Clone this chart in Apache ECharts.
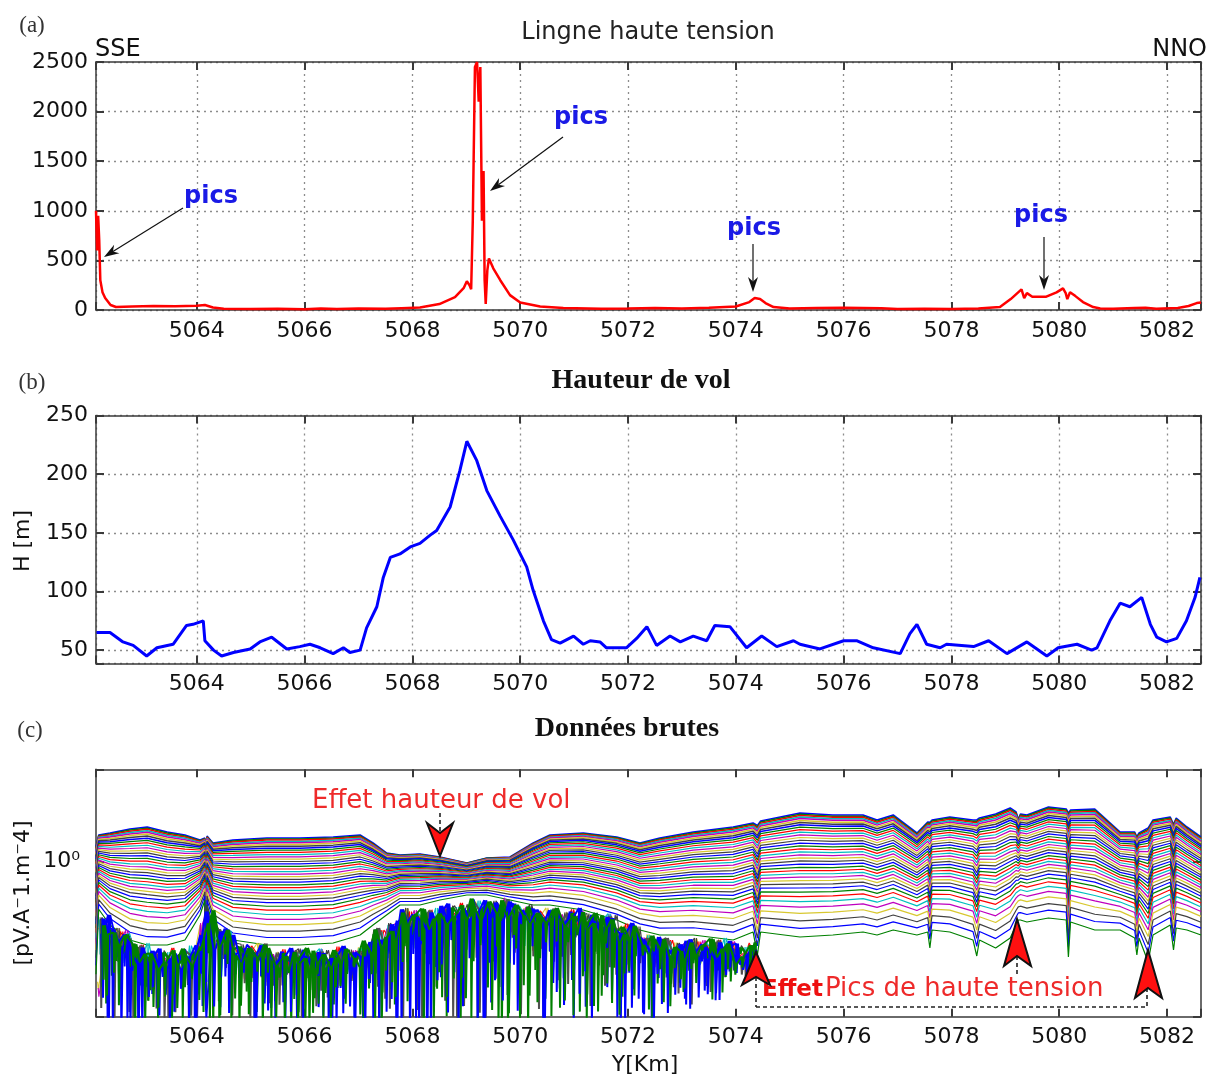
<!DOCTYPE html>
<html>
<head>
<meta charset="utf-8">
<script src="https://cdn.jsdelivr.net/npm/echarts@6/dist/echarts.min.js"></script>
<style>
  html, body { margin: 0; padding: 0; background: #fff; }
  #main { width: 1207px; height: 1078px; }
</style>
</head>
<body>
<div id="main"></div>
<script>
// (a) ligne haute tension : amplitude le long du profil
var aKm = [5062.13, 5062.15, 5062.17, 5062.19, 5062.21, 5062.25, 5062.3, 5062.4, 5062.5, 5062.8, 5063.2, 5063.6, 5064.0, 5064.15, 5064.3, 5064.5,
  5065.0, 5065.5, 5066.0, 5066.3, 5066.6, 5067.0, 5067.5, 5067.8, 5068.14, 5068.5, 5068.79, 5068.95, 5069.01, 5069.06, 5069.09, 5069.12,
  5069.16, 5069.2, 5069.23, 5069.26, 5069.29, 5069.32, 5069.34, 5069.36, 5069.39, 5069.42, 5069.5, 5069.63, 5069.81, 5070.0, 5070.37,
  5070.8, 5071.5, 5072.0, 5072.5, 5073.0, 5073.5, 5074.0, 5074.25, 5074.35, 5074.45, 5074.55, 5074.7, 5075.0, 5075.5, 5076.0, 5076.7,
  5077.0, 5077.5, 5078.0, 5078.5, 5078.9, 5079.1, 5079.3, 5079.35, 5079.4, 5079.5, 5079.76, 5079.95, 5080.07, 5080.12, 5080.15, 5080.2,
  5080.3, 5080.44, 5080.63, 5080.76, 5081.0, 5081.4, 5081.6, 5081.8, 5082.2, 5082.4, 5082.55, 5082.63]
var aVal = [1000, 600, 950, 700, 300, 180, 120, 50, 30, 35, 40, 38, 42, 50, 25, 12,
  10, 12, 8, 15, 10, 15, 12, 18, 25, 60, 130, 220, 290, 250, 210, 900,
  2450, 2500, 2100, 2450, 900, 1400, 300, 60, 400, 520, 420, 300, 150, 75, 35,
  20, 12, 15, 20, 15, 22, 35, 80, 120, 110, 70, 30, 15, 20, 22, 18,
  10, 12, 10, 15, 30, 110, 208, 120, 170, 134, 134, 178, 218, 170, 110, 180,
  140, 80, 30, 15, 12, 20, 22, 12, 20, 40, 70, 75]

// (b) hauteur de vol [m]
var bKm = [5062.14, 5062.39, 5062.63, 5062.82, 5063.07, 5063.26, 5063.56, 5063.81, 5063.93, 5064.12, 5064.15, 5064.31, 5064.46, 5064.68,
  5064.99, 5065.17, 5065.39, 5065.67, 5065.91, 5066.1, 5066.29, 5066.53, 5066.72, 5066.84, 5067.03, 5067.15, 5067.34, 5067.46, 5067.59,
  5067.77, 5067.96, 5068.14, 5068.33, 5068.45, 5068.7, 5068.88, 5069.01, 5069.19, 5069.38, 5069.63, 5069.87, 5070.12, 5070.24, 5070.43,
  5070.58, 5070.74, 5070.99, 5071.17, 5071.3, 5071.48, 5071.6, 5071.97, 5072.16, 5072.35, 5072.53, 5072.78, 5072.97, 5073.21, 5073.46,
  5073.61, 5073.89, 5074.2, 5074.48, 5074.76, 5075.07, 5075.19, 5075.56, 5076.0, 5076.24, 5076.55, 5077.05, 5077.23, 5077.36, 5077.54,
  5077.79, 5077.91, 5078.41, 5078.69, 5079.03, 5079.4, 5079.77, 5079.98, 5080.33, 5080.6, 5080.7, 5080.94, 5081.13, 5081.31, 5081.53,
  5081.69, 5081.81, 5081.99, 5082.18, 5082.36, 5082.52, 5082.61]
var bH = [65, 65, 57, 54, 45, 52, 55, 71, 72, 75, 58, 50, 45, 48,
  51, 57, 61, 51, 53, 55, 52, 47, 52, 48, 50, 69, 87, 112, 129,
  132, 138, 141, 148, 152, 172, 203, 228, 212, 186, 164, 144, 121, 101, 75,
  59, 56, 62, 55, 58, 57, 52, 52, 60, 70, 54, 62, 57, 62, 58,
  71, 70, 52, 62, 53, 58, 55, 51, 58, 58, 52, 47, 64, 72, 55,
  52, 55, 53, 58, 47, 57, 45, 52, 55, 50, 52, 75, 90, 87, 95,
  72, 61, 57, 60, 75, 95, 112]

// (c) données brutes : premier et dernier canal propre (log10), bas du bruit (log10)
var cKm = [5062.13, 5062.18, 5062.39, 5062.76, 5063.08, 5063.45, 5063.78, 5064.06, 5064.15, 5064.17, 5064.19, 5064.3, 5064.67, 5065.3,
  5065.91, 5066.53, 5067.03, 5067.27, 5067.52, 5067.77, 5068.14, 5068.51, 5069.01, 5069.38, 5069.81, 5070.24, 5070.55, 5071.17,
  5071.79, 5072.22, 5072.59, 5073.21, 5073.95, 5074.32, 5074.4, 5074.46, 5075.19, 5075.8, 5076.36, 5076.62, 5076.92, 5077.36,
  5077.56, 5077.6, 5077.64, 5077.97, 5078.4, 5078.47, 5078.52, 5078.82, 5079.09, 5079.2, 5079.24, 5079.28, 5079.4, 5079.8,
  5080.13, 5080.17, 5080.21, 5080.66, 5081.13, 5081.4, 5081.44, 5081.48, 5081.65, 5081.74, 5082.06, 5082.12, 5082.17, 5082.37, 5082.63]
var cTopLog = [0.06, 0.107, 0.115, 0.131, 0.139, 0.119, 0.107, 0.087, 0.095, -0.593, 0.103, 0.075, 0.087, 0.095,
  0.095, 0.099, 0.107, 0.075, 0.035, 0.027, 0.031, 0.019, -0.005, 0.015, 0.019, 0.075, 0.107, 0.115,
  0.099, 0.075, 0.095, 0.119, 0.139, 0.155, 0.145, 0.163, 0.195, 0.187, 0.187, 0.167, 0.187, 0.115,
  0.159, 0.158, 0.167, 0.179, 0.167, 0.167, 0.175, 0.191, 0.215, 0.199, 0.17, 0.191, 0.187, 0.219,
  0.211, 0.195, 0.207, 0.211, 0.119, 0.119, 0.1, 0.115, 0.135, 0.167, 0.179, 0.15, 0.175, 0.139, 0.099]
var cBotLog = [-0.45, -0.19, -0.253, -0.313, -0.333, -0.333, -0.313, -0.213, -0.153, -0.593, -0.173, -0.253, -0.313, -0.333,
  -0.333, -0.325, -0.293, -0.253, -0.213, -0.173, -0.173, -0.153, -0.133, -0.133, -0.153, -0.173, -0.173, -0.193,
  -0.233, -0.273, -0.293, -0.293, -0.313, -0.281, -0.373, -0.281, -0.301, -0.293, -0.281, -0.293, -0.273, -0.293,
  -0.281, -0.345, -0.273, -0.281, -0.313, -0.377, -0.313, -0.345, -0.305, -0.253, -0.233, -0.233, -0.241, -0.225,
  -0.233, -0.381, -0.241, -0.273, -0.273, -0.305, -0.373, -0.305, -0.401, -0.293, -0.253, -0.353, -0.265, -0.273, -0.293]
var cNoiseLog = [-0.633, -0.633, -0.633, -0.633, -0.633, -0.633, -0.633, -0.633, -0.633, -0.633, -0.633, -0.633, -0.633, -0.633,
  -0.633, -0.613, -0.613, -0.633, -0.633, -0.633, -0.633, -0.633, -0.633, -0.633, -0.633, -0.593, -0.573, -0.573,
  -0.593, -0.593, -0.553, -0.513, -0.453, -0.413, null]
// position relative des canaux entre le premier et le dernier
var chanFrac = [0, 0.01, 0.02, 0.032, 0.045, 0.06, 0.077, 0.095, 0.114, 0.134, 0.155, 0.176, 0.198, 0.22, 0.243, 0.266, 0.29,
  0.314, 0.338, 0.362, 0.387, 0.412, 0.438, 0.464, 0.49, 0.517, 0.545, 0.574, 0.605, 0.638, 0.674, 0.715, 0.76, 0.81, 0.87, 0.93, 1.0]
// profondeur relative des pics de bruit
var spikeFrac = [0.82, 0.15, 0.55, 0.97, 0.3, 0.68, 0.08, 0.9, 0.42, 0.6, 1.0, 0.22, 0.75, 0.35, 0.05, 0.88, 0.5, 0.27, 0.95, 0.62,
  0.12, 0.78, 0.4, 0.99, 0.18, 0.7, 0.33, 0.85, 0.1, 0.58, 0.93, 0.25, 0.65, 0.45, 0.02, 0.8, 0.38, 0.92, 0.2, 0.72, 0.48, 0.98,
  0.14, 0.66, 0.3, 0.86, 0.52]
var noiseReach = [0.25, 0.3, 0.35, 0.45, 0.4, 1.1, 1.25, 1.2, 1.3, 1.15]
var noiseColors = ['#d8c830', '#bf00bf', '#ff0000', '#00bfbf', '#404040', '#505050', '#0000ff', '#008000', '#0000ff', '#008000']
var matlabColors = ['#0000ff', '#008000', '#ff0000', '#00bfbf', '#bf00bf', '#d8c830', '#404040']

var KM_MIN = 5062.13
var KM_MAX = 5082.63
var AXIS_COLOR = '#3a3a3a'
var TICK_FONT = 'DejaVu Sans'

var myChart = echarts.init(document.getElementById('main'), null, { renderer: 'canvas' })

function zip(xs, ys) {
  return xs.map(function (x, i) { return [x, ys[i]] })
}

function lastRow(x) {
  var r = 0
  while (r + 1 < cKm.length && cKm[r + 1] <= x) r++
  return r
}

function baseAxis(extra) {
  var ax = {
    axisLine: { show: true, onZero: false, lineStyle: { color: AXIS_COLOR, width: 1.5 } },
    axisTick: { show: true, inside: true, length: 8, lineStyle: { color: AXIS_COLOR, width: 2 } },
    axisLabel: { show: false },
    splitLine: { show: false }
  }
  return Object.assign(ax, extra)
}

function kmAxes(g, grid) {
  var bottom = baseAxis({
    type: 'value', gridIndex: g, position: 'bottom', min: KM_MIN, max: KM_MAX, minInterval: 2, maxInterval: 2,
    axisLabel: {
      show: true, margin: 10, fontFamily: TICK_FONT, fontSize: 22, color: '#111',
      formatter: function (v) { return v % 2 === 0 ? String(v) : '' }
    },
    splitLine: { show: grid, lineStyle: { color: '#8c8c8c', width: 1.3, type: [2, 4] } }
  })
  var top = baseAxis({ type: 'value', gridIndex: g, position: 'top', min: KM_MIN, max: KM_MAX, minInterval: 2, maxInterval: 2 })
  return [bottom, top]
}

function valueAxes(g, opts, step) {
  var left = baseAxis(Object.assign({
    gridIndex: g, position: 'left',
    axisLabel: {
      show: true, margin: 8, fontFamily: TICK_FONT, fontSize: 22, color: '#111',
      formatter: function (v) { return v % step === 0 ? String(v) : '' }
    },
    splitLine: { show: true, lineStyle: { color: '#8c8c8c', width: 1.3, type: [2, 4] } }
  }, opts))
  var right = baseAxis(Object.assign({ gridIndex: g, position: 'right' }, opts))
  return [left, right]
}

var xAxes = [].concat(kmAxes(0, true), kmAxes(1, true), kmAxes(2, false))
var yAxes = [].concat(
  valueAxes(0, { type: 'value', min: 0, max: 2500, interval: 500 }, 500),
  valueAxes(1, { type: 'value', min: 38.6, max: 250, minInterval: 50, maxInterval: 50 }, 50)
)
var logOpts = { type: 'log', logBase: 10, min: 0.24, max: 2.342 }
yAxes.push(baseAxis(Object.assign({
  gridIndex: 2, position: 'left',
  axisLabel: {
    show: true, margin: 16, fontFamily: TICK_FONT, fontSize: 22, color: '#111',
    formatter: function (v) { return Math.abs(v - 1) < 1e-9 ? '10⁰' : '' }
  }
}, logOpts)))
yAxes.push(baseAxis(Object.assign({ gridIndex: 2, position: 'right' }, logOpts)))

var series = []
series.push({
  type: 'line', xAxisIndex: 0, yAxisIndex: 0, data: zip(aKm, aVal), showSymbol: false, silent: true,
  lineStyle: { color: '#ff0000', width: 2.5 }, z: 3
})
series.push({
  type: 'line', xAxisIndex: 2, yAxisIndex: 2, data: zip(bKm, bH), showSymbol: false, silent: true,
  lineStyle: { color: '#0000ff', width: 3 }, z: 3
})

// canaux propres
chanFrac.forEach(function (f, i) {
  var data = cKm.map(function (x, r) {
    return [x, Math.pow(10, cTopLog[r] + f * (cBotLog[r] - cTopLog[r]))]
  })
  series.push({
    type: 'line', xAxisIndex: 4, yAxisIndex: 4, data: data, showSymbol: false, silent: true,
    lineStyle: { color: matlabColors[i % 7], width: i < 8 ? 1.5 : 1.2 }
  })
})

// canaux tardifs dans le bruit
noiseReach.forEach(function (reach, j) {
  var data = []
  var n = spikeFrac.length
  var x = 5062.16 + j * 0.011
  for (var k = 0; ; k++) {
    var r = lastRow(x)
    if (cNoiseLog[r] == null) break
    var floor = cBotLog[r] - 0.01 - 0.09 * spikeFrac[(k + 11 + j * 5) % n]
    var low = floor - (floor - cNoiseLog[r]) * spikeFrac[(k * 3 + j * 7) % n] * reach
    data.push([x, Math.pow(10, floor)], [x + 0.012, Math.pow(10, low)], [x + 0.024, Math.pow(10, low)], [x + 0.036, Math.pow(10, floor)])
    x += 0.06 + 0.1 * spikeFrac[(k * 5 + j * 3 + 7) % n]
  }
  series.push({
    type: 'line', xAxisIndex: 4, yAxisIndex: 4, data: data, showSymbol: false, silent: true,
    lineStyle: { color: noiseColors[j], width: reach > 1 ? 2 : 1.1 }
  })
})

// annotations
function txt(text, x, y, font, fill, align, rot) {
  return {
    type: 'text', x: x, y: y, rotation: rot || 0, z: 20, silent: true,
    style: { text: text, font: font, fill: fill, align: align || 'center', verticalAlign: 'middle' }
  }
}

function blackArrow(x1, y1, x2, y2) {
  var a = Math.atan2(y2 - y1, x2 - x1)
  var c = Math.cos(a), s = Math.sin(a)
  var len = 15, half = 5
  var bx = x2 - len * c, by = y2 - len * s
  var nx = x2 - 0.7 * len * c, ny = y2 - 0.7 * len * s
  return [
    { type: 'line', z: 20, silent: true, shape: { x1: x1, y1: y1, x2: nx, y2: ny }, style: { stroke: '#111', lineWidth: 1.2 } },
    {
      type: 'polygon', z: 20, silent: true,
      shape: { points: [[x2, y2], [bx - half * s, by + half * c], [nx, ny], [bx + half * s, by - half * c]] },
      style: { fill: '#111' }
    }
  ]
}

function redHead(points) {
  return {
    type: 'polygon', z: 21, silent: true, shape: { points: points },
    style: { fill: '#ff1010', stroke: '#111', lineWidth: 2 }
  }
}

function dashed(x1, y1, x2, y2) {
  return {
    type: 'line', z: 20, silent: true, shape: { x1: x1, y1: y1, x2: x2, y2: y2 },
    style: { stroke: '#222', lineWidth: 1.6, lineDash: [4, 3] }
  }
}

var SANS = '"DejaVu Sans"'
var SERIF = '"Liberation Serif"'
var picsFont = 'bold 24px ' + SANS
var picsBlue = '#1a1ae6'

var graphics = [
  txt('(a)', 32, 26, '23px ' + SERIF, '#333'),
  txt('(b)', 32, 383, '23px ' + SERIF, '#333'),
  txt('(c)', 30, 731, '23px ' + SERIF, '#333'),
  txt('Lingne haute tension', 648, 33, '24px ' + SANS, '#222'),
  txt('Hauteur de vol', 641, 381, 'bold 28px ' + SERIF, '#111'),
  txt('Données brutes', 627, 729, 'bold 28px ' + SERIF, '#111'),
  txt('SSE', 95, 50, '24px ' + SANS, '#111', 'left'),
  txt('NNO', 1207, 50, '24px ' + SANS, '#111', 'right'),
  txt('H [m]', 23, 541, '22px ' + SANS, '#111', 'center', Math.PI / 2),
  txt('[pV.A⁻1.m⁻4]', 23, 893, '22px ' + SANS, '#111', 'center', Math.PI / 2),
  txt('Y[Km]', 645, 1065, '22px ' + SANS, '#111'),
  txt('pics', 211, 197, picsFont, picsBlue),
  txt('pics', 581, 118, picsFont, picsBlue),
  txt('pics', 754, 229, picsFont, picsBlue),
  txt('pics', 1041, 216, picsFont, picsBlue),
  txt('Effet hauteur de vol', 312, 801, '26px ' + SANS, '#ee2a2a', 'left'),
  txt('Effet', 762, 990, 'bold 23px ' + SANS, '#ee1010', 'left'),
  txt('Pics de haute tension', 825, 989, '26px ' + SANS, '#ee2a2a', 'left')
]
graphics = graphics
  .concat(blackArrow(183, 208, 104, 257))
  .concat(blackArrow(563, 137, 490, 191))
  .concat(blackArrow(753, 244, 753, 292))
  .concat(blackArrow(1044, 237, 1044, 290))
graphics.push(
  dashed(440, 813, 440, 833),
  redHead([[440, 856], [453, 823], [440, 833], [427, 823]]),
  dashed(756, 977, 756, 1007),
  dashed(756, 1007, 1147, 1007),
  dashed(1147, 988, 1147, 1007),
  dashed(1017, 956, 1017, 976),
  redHead([[756, 952], [770, 985], [756, 977], [742, 985]]),
  redHead([[1017, 919], [1031, 966], [1017, 956], [1004, 966]]),
  redHead([[1148, 950], [1162, 998], [1148, 988], [1135, 998]])
)

var option = {
  animation: false,
  backgroundColor: '#fff',
  grid: [
    { left: 96, top: 62, width: 1105, height: 248, containLabel: false, outerBoundsMode: 'none' },
    { left: 96, top: 415.5, width: 1105, height: 248, containLabel: false, outerBoundsMode: 'none' },
    { left: 96, top: 769.3, width: 1105, height: 247.4, containLabel: false, outerBoundsMode: 'none' }
  ],
  xAxis: xAxes,
  yAxis: yAxes,
  series: series,
  graphic: graphics
}

myChart.setOption(option)
</script>
</body>
</html>
